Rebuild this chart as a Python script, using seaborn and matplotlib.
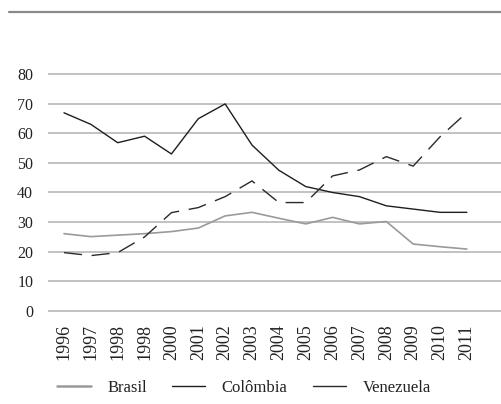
import matplotlib
matplotlib.use("Agg")
import matplotlib.pyplot as plt
import seaborn as sns
import numpy as np
from matplotlib.lines import Line2D

years = ["1996", "1997", "1998", "1998", "2000", "2001", "2002", "2003",
         "2004", "2005", "2006", "2007", "2008", "2009", "2010", "2011"]
brasil = [26.1, 25.1, 25.6, 26.1, 26.8, 28.0, 32.1, 33.3,
          31.3, 29.4, 31.6, 29.4, 30.2, 22.6, 21.7, 20.9]
colombia = [66.9, 63.0, 56.8, 59.0, 53.0, 64.9, 69.9, 56.0,
            47.5, 42.0, 40.0, 38.6, 35.5, 34.4, 33.3, 33.3]
venezuela = [19.7, 18.7, 19.7, 25.0, 33.2, 34.9, 38.6, 43.9,
             36.6, 36.6, 45.6, 47.6, 52.1, 48.9, 58.8, 67.0]
yticks = [0, 10, 20, 30, 40, 50, 60, 70, 80]

sns.set_theme(style="white")
plt.rcParams['font.family'] = ['Liberation Serif', 'DejaVu Serif']

fig = plt.figure(figsize=(5.01, 4.04), dpi=100)
ax = fig.add_axes([0.0968, 0.2229, 0.9032, 0.8242 - 0.2229])

idx = np.arange(len(years))
sns.lineplot(x=idx, y=brasil, ax=ax, color="#9a9a9a", linewidth=1.2, label="Brasil")
sns.lineplot(x=idx, y=colombia, ax=ax, color="#1e1e1e", linewidth=1.0, label="Colômbia")
sns.lineplot(x=idx, y=venezuela, ax=ax, color="#2a2a2a", linewidth=1.0,
             linestyle=(0, (13, 7)), label="Venezuela")

ax.set_xlim(-0.577, 16.27)
ax.set_ylim(-1, 81)
ax.set_yticks(yticks)
ax.set_yticklabels([str(v) for v in yticks], fontsize=11.5, color="#222222")
ax.set_xticks(idx)
ax.set_xticklabels(years, rotation=90, fontsize=13, color="#222222")
ax.tick_params(axis='both', length=0)
ax.tick_params(axis='y', pad=11)
ax.tick_params(axis='x', pad=7.5)
for s in ax.spines.values():
    s.set_visible(False)
ax.yaxis.grid(True, color="#b8b8b8", linewidth=1.2)
ax.xaxis.grid(False)
ax.set_xlabel("")
ax.set_ylabel("")

handles, labels = ax.get_legend_handles_labels()
ax.get_legend().remove()
handles = [Line2D([], [], color="#9a9a9a", lw=1.8),
           Line2D([], [], color="#1e1e1e", lw=1.0),
           Line2D([], [], color="#2a2a2a", lw=1.0)]
fig.legend(handles, labels, loc="center", bbox_to_anchor=(0.487, 0.04), ncol=3,
           frameon=False, fontsize=12, handlelength=2.0, handletextpad=1.0,
           columnspacing=1.5, labelcolor="#222222")

fig.add_artist(Line2D([9 / 501, 1.0], [1 - 12 / 404, 1 - 12 / 404],
                      color="#8a8a8a", lw=1.6, transform=fig.transFigure))

fig.savefig("out.png", dpi=100)
